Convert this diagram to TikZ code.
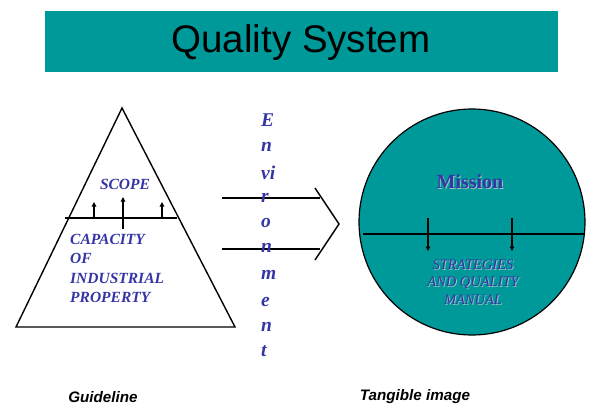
\documentclass[tikz,border=0pt]{standalone}
\usepackage{fontspec}
\setmainfont{Liberation Serif}
\setsansfont{Liberation Sans}
\usetikzlibrary{arrows.meta}
\definecolor{teal}{HTML}{009999}
\definecolor{ink}{HTML}{3535A5}
\definecolor{shade}{HTML}{9FC4C4}
\tikzset{
  outline/.style={line width=1.4pt, black},
  uparrow/.style={line width=1.2pt, -{Triangle[length=4.5pt,width=4.5pt]}},
  labeltext/.style={text=ink, font=\bfseries\itshape\fontsize{15.5}{19.5}\selectfont, inner sep=0pt},
  envletter/.style={text=ink, font=\bfseries\itshape\fontsize{19.5}{20}\selectfont, anchor=west, inner sep=0pt},
  caption/.style={font=\sffamily\bfseries\itshape\fontsize{15.2}{16}\selectfont, inner sep=0pt},
}
\begin{document}
\begin{tikzpicture}[x=1pt,y=-1pt]
\useasboundingbox (0,0) rectangle (590,408);

% title band
\node[fill=teal, minimum width=513pt, minimum height=61pt, inner sep=0pt] (band) at (301.5,41.5) {};
\node[font=\sffamily\fontsize{38.5}{40}\selectfont, inner sep=0pt] (title) at (301,43) {Quality System};

% pyramid
\coordinate (apex) at (122,108);
\coordinate (bl) at (16,327);
\coordinate (br) at (235,327);
\draw[outline] (apex) -- (br) -- (bl) -- cycle;
\coordinate (divL) at (65,218);
\coordinate (divR) at (177,218);
\draw[outline] (divL) -- (divR);
\coordinate (a1s) at (94,218);  \coordinate (a1e) at (94,202);
\coordinate (a2s) at (123,229); \coordinate (a2e) at (123,197);
\coordinate (a3s) at (162,218); \coordinate (a3e) at (162,202);
\draw[uparrow] (a1s) -- (a1e);
\draw[uparrow] (a2s) -- (a2e);
\draw[uparrow] (a3s) -- (a3e);
\node[labeltext] (scope) at (125,184) {SCOPE};
\node[labeltext, anchor=north west, align=left] (capacity) at (70,234)
  {CAPACITY\\OF\\INDUSTRIAL\\PROPERTY};

% environment arrow
\coordinate (t1) at (222,198); \coordinate (t2) at (320,198);
\coordinate (b1) at (222,249); \coordinate (b2) at (320,249);
\coordinate (c1) at (315,188); \coordinate (tip) at (339,224); \coordinate (c2) at (315,260);
\draw[outline] (t1) -- (t2);
\draw[outline] (b1) -- (b2);
\draw[outline] (c1) -- (tip) -- (c2);
\node[envletter] (e1) at (261,120) {E};
\node[envletter] (e2) at (261,147) {n};
\node[envletter] (e3) at (261,173) {vi};
\node[envletter] (e4) at (261,198) {r};
\node[envletter] (e5) at (261,223) {o};
\node[envletter] (e6) at (261,248) {n};
\node[envletter] (e7) at (261,275) {m};
\node[envletter] (e8) at (261,302) {e};
\node[envletter] (e9) at (261,327) {n};
\node[envletter] (e10) at (261,351) {t};

% circle
\node[circle, fill=teal, draw=black, line width=1.2pt, minimum size=226pt, inner sep=0pt] (disc) at (472,222) {};
\coordinate (hl) at (363,234);
\coordinate (hr) at (585,234);
\draw[outline] (hl) -- (hr);
\coordinate (d1s) at (428,218); \coordinate (d1e) at (428,251);
\coordinate (d2s) at (512,218); \coordinate (d2e) at (512,251);
\draw[uparrow] (d1s) -- (d1e);
\draw[uparrow] (d2s) -- (d2e);
\node[text=shade, font=\bfseries\fontsize{20}{20}\selectfont, inner sep=0pt] at (471,183) {Mission};
\node[text=ink, font=\bfseries\fontsize{20}{20}\selectfont, inner sep=0pt] (mission) at (470,182) {Mission};
\node[text=shade, font=\itshape\fontsize{14.5}{17.5}\selectfont, align=center, inner sep=0pt] at (474,283) {STRATEGIES\\AND QUALITY\\MANUAL};
\node[text=ink, font=\itshape\fontsize{14.5}{17.5}\selectfont, align=center, inner sep=0pt] (strategies) at (473,282) {STRATEGIES\\AND QUALITY\\MANUAL};

% captions
\node[caption] (guide) at (103,397) {Guideline};
\node[caption] (tangible) at (415,397) {Tangible image};
\end{tikzpicture}
\end{document}
